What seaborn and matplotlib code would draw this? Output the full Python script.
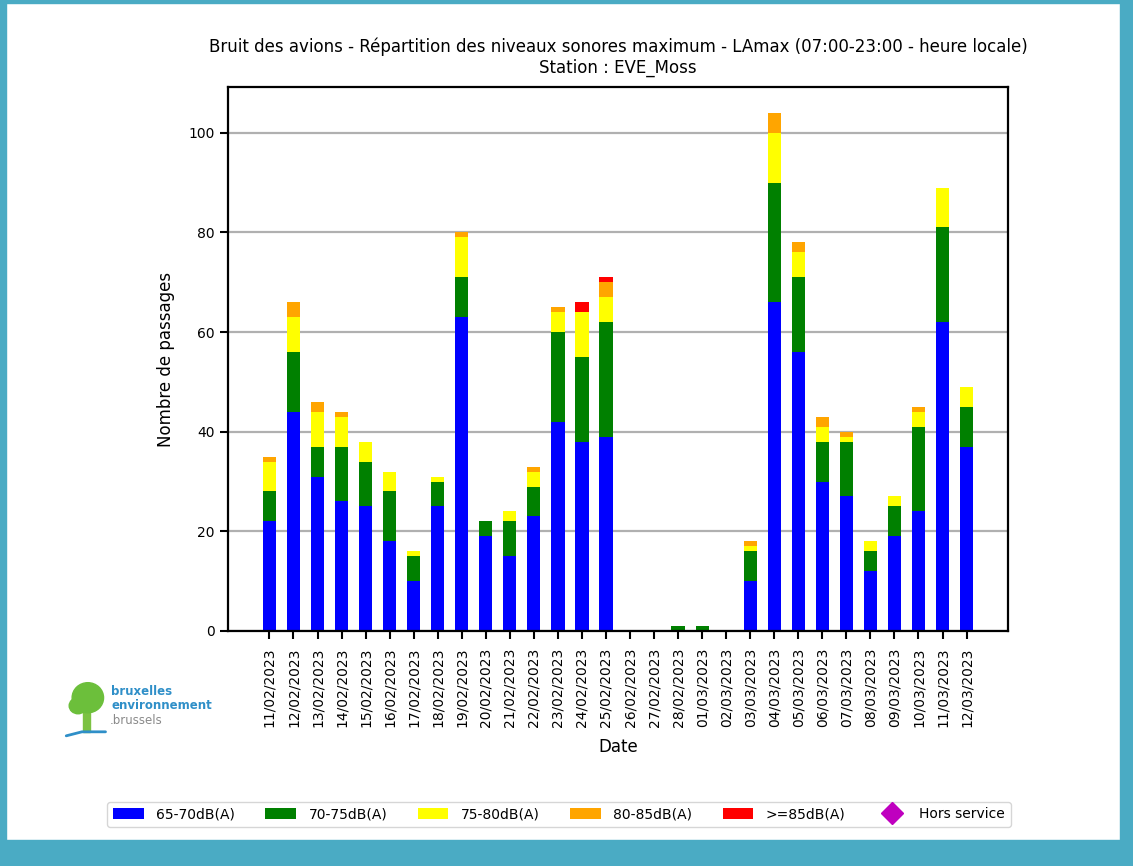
import numpy as np
import pandas as pd
import seaborn as sns
import matplotlib.pyplot as plt
from matplotlib.patches import Patch, Rectangle, Ellipse
from matplotlib.lines import Line2D

# dates on the x axis
dates = ['11/02/2023', '12/02/2023', '13/02/2023', '14/02/2023', '15/02/2023',
         '16/02/2023', '17/02/2023', '18/02/2023', '19/02/2023', '20/02/2023',
         '21/02/2023', '22/02/2023', '23/02/2023', '24/02/2023', '25/02/2023',
         '26/02/2023', '27/02/2023', '28/02/2023', '01/03/2023', '02/03/2023',
         '03/03/2023', '04/03/2023', '05/03/2023', '06/03/2023', '07/03/2023',
         '08/03/2023', '09/03/2023', '10/03/2023', '11/03/2023', '12/03/2023']

# number of passages per noise class
db_65_70 = [22, 44, 31, 26, 25, 18, 10, 25, 63, 19, 15, 23, 42, 38, 39,
            0, 0, 0, 0, 0, 10, 66, 56, 30, 27, 12, 19, 24, 62, 37]
db_70_75 = [6, 12, 6, 11, 9, 10, 5, 5, 8, 3, 7, 6, 18, 17, 23,
            0, 0, 1, 1, 0, 6, 24, 15, 8, 11, 4, 6, 17, 19, 8]
db_75_80 = [6, 7, 7, 6, 4, 4, 1, 1, 8, 0, 2, 3, 4, 9, 5,
            0, 0, 0, 0, 0, 1, 10, 5, 3, 1, 2, 2, 3, 8, 4]
db_80_85 = [1, 3, 2, 1, 0, 0, 0, 0, 1, 0, 0, 1, 1, 0, 3,
            0, 0, 0, 0, 0, 1, 4, 2, 2, 1, 0, 0, 1, 0, 0]
db_85 = [0, 0, 0, 0, 0, 0, 0, 0, 0, 0, 0, 0, 0, 2, 1,
         0, 0, 0, 0, 0, 0, 0, 0, 0, 0, 0, 0, 0, 0, 0]

classes = ['65-70dB(A)', '70-75dB(A)', '75-80dB(A)', '80-85dB(A)', '>=85dB(A)']
colors = ['#0000ff', '#008000', '#ffff00', '#ffa500', '#ff0000']

df = pd.DataFrame({'date': dates, classes[0]: db_65_70, classes[1]: db_70_75,
                   classes[2]: db_75_80, classes[3]: db_80_85, classes[4]: db_85})
cum = df[classes].cumsum(axis=1)

sns.set_style('white')
plt.rcParams['font.family'] = ['DejaVu Sans']
plt.rcParams['text.color'] = 'black'
plt.rcParams['axes.labelcolor'] = 'black'
plt.rcParams['xtick.color'] = 'black'
plt.rcParams['ytick.color'] = 'black'

fig = plt.figure(figsize=(11.33, 8.66), dpi=100)
ax = fig.add_axes([0.2012, 0.2714, 0.6885, 0.6281])
ax.set_axisbelow(True)

# stacked bars: draw the cumulative totals from top class down
for cls, col in reversed(list(zip(classes, colors))):
    sns.barplot(x=df['date'], y=cum[cls], color=col, saturation=1, width=0.55,
                linewidth=0, ax=ax, order=dates)

ax.set_xlim(-1.725, len(dates) - 1 + 1.725)
ax.set_ylim(0, 109.2)
ax.set_yticks([0, 20, 40, 60, 80, 100])
ax.yaxis.grid(True, color='#b0b0b0', linewidth=1.6)
ax.xaxis.grid(False)
for s in ax.spines.values():
    s.set_color('black')
    s.set_linewidth(1.6)
ax.tick_params(axis='both', direction='out', length=6, width=1.5, color='black',
               labelsize=10, bottom=True, left=True)
ax.tick_params(axis='x', labelrotation=90, pad=6)
ax.set_xlabel('Date', fontsize=12, labelpad=8)
ax.set_ylabel('Nombre de passages', fontsize=12, labelpad=10)
ax.set_title('Bruit des avions - Répartition des niveaux sonores maximum - LAmax '
             '(07:00-23:00 - heure locale)\nStation : EVE_Moss', fontsize=12, pad=10)

# legend below the chart
handles = [Patch(facecolor=c, edgecolor='none') for c in colors]
handles.append(Line2D([], [], linestyle='none', marker='D', markersize=11,
                      markerfacecolor='#bf00bf', markeredgecolor='#bf00bf'))
labels = classes + ['Hors service']
fig.legend(handles, labels, loc='center', bbox_to_anchor=(0.4934, 0.0595), ncol=6,
           fontsize=10, handlelength=2.2, handleheight=0.9, columnspacing=2.2,
           handletextpad=0.9, frameon=True, edgecolor='#cccccc', fancybox=True,
           borderpad=0.4)

# logo (approximation)
lax = fig.add_axes([0.055, 0.148, 0.13, 0.066])
lax.set_xlim(0, 150)
lax.set_ylim(0, 57)
lax.axis('off')
lax.add_patch(Rectangle((21, 6), 7, 26, color='#7cc242'))
lax.add_patch(Ellipse((26, 40), 32, 30, color='#6cbf3b'))
lax.add_patch(Ellipse((16, 32), 18, 16, color='#6cbf3b'))
lax.plot([4, 20, 44], [2, 6, 6], color='#2f8fc8', lw=2)
lax.text(50, 46, 'bruxelles', color='#2f8fc8', fontsize=8.5, fontweight='bold', va='center')
lax.text(50, 32, 'environnement', color='#2f8fc8', fontsize=8.5, fontweight='bold', va='center')
lax.text(48, 17, '.brussels', color='#8a8a8a', fontsize=8.5, va='center')

# blue screenshot frame
W, H = 1133, 866
frame = '#4aabc4'
fig.patches.extend([
    Rectangle((0, 0), 6 / W, 1, transform=fig.transFigure, color=frame, zorder=-1),
    Rectangle((1 - 13 / W, 0), 13 / W, 1, transform=fig.transFigure, color=frame, zorder=-1),
    Rectangle((0, 1 - 3 / H), 1, 3 / H, transform=fig.transFigure, color=frame, zorder=-1),
    Rectangle((0, 0), 1, 26 / H, transform=fig.transFigure, color=frame, zorder=-1),
])

fig.savefig('out.png', dpi=100)
